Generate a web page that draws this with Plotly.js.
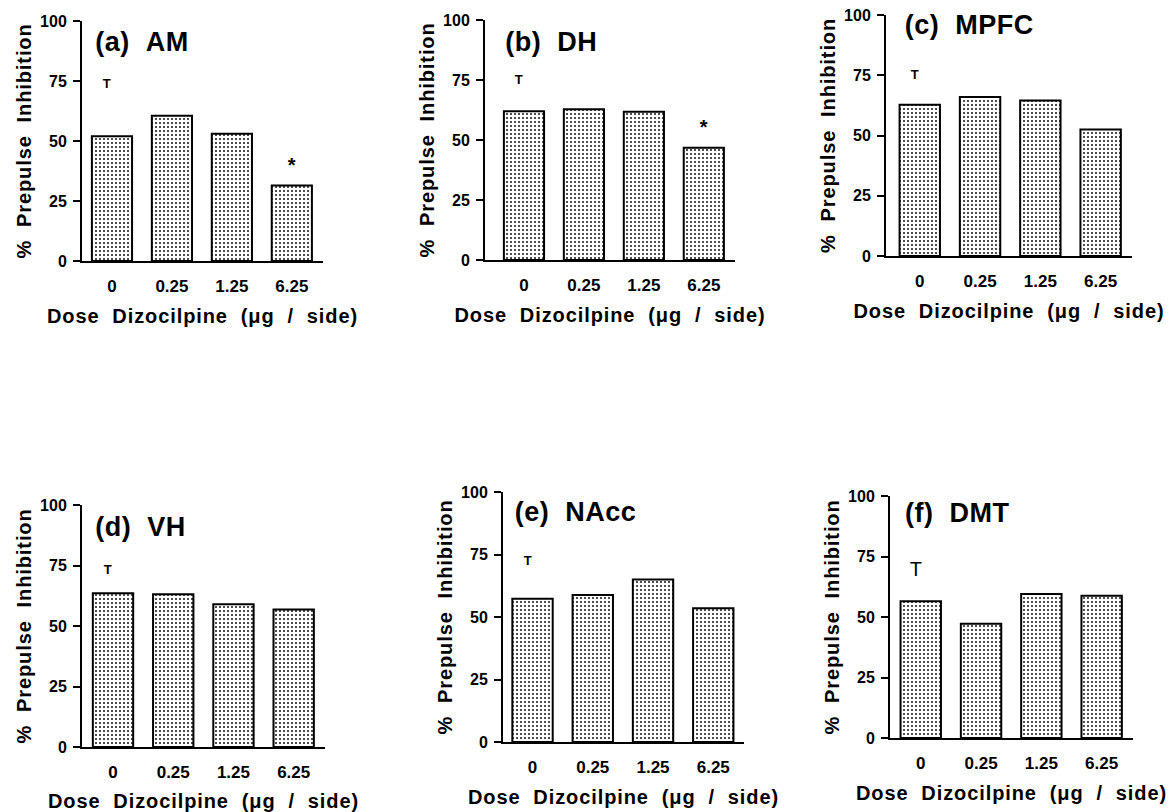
<!DOCTYPE html>
<html>
<head>
<meta charset="utf-8">
<script src="https://cdn.plot.ly/plotly-3.0.1.min.js"></script>
<style>
html,body{margin:0;padding:0;background:#fff;}
#chart{width:1172px;height:812px;}
#chart text[class$="title"]{letter-spacing:0.9px;}
#chart text.annotation-text{letter-spacing:0.5px;}
</style>
</head>
<body>
<div id="chart"></div>
<script>
// ---- data ----
const doses = ['0', '0.25', '1.25', '6.25'];
const panelNames = ['(a)\u00a0\u00a0AM', '(b)\u00a0\u00a0DH', '(c)\u00a0\u00a0MPFC', '(d)\u00a0\u00a0VH', '(e)\u00a0\u00a0NAcc', '(f)\u00a0\u00a0DMT'];
const amValues   = [52, 60.5, 53, 31.5];
const dhValues   = [62, 62.8, 61.8, 46.8];
const mpfcValues = [62.8, 66, 64.5, 52.5];
const vhValues   = [63.5, 63.1, 59, 56.8];
const naccValues = [57.3, 58.8, 65, 53.5];
const dmtValues  = [56.5, 47.2, 59.5, 58.8];
const tMarkY     = [74, 75, 75.5, 73.4, 72.7, 70];     // "T" mark above control bar
const starDose   = ['6.25', '6.25'];                  // significance stars (panels a, b)
const starY      = [41.6, 57];
const yTicks     = [0, 25, 50, 75, 100];
const xTitle = 'Dose\u00a0\u00a0Dizocilpine\u00a0\u00a0(\u03bcg\u00a0\u00a0/\u00a0\u00a0side)';
const yTitle = '%\u00a0\u00a0Prepulse\u00a0\u00a0Inhibition';

const seriesValues = [amValues, dhValues, mpfcValues, vhValues, naccValues, dmtValues];

// ---- layout helpers (pixel frame of the 1172x812 page) ----
const W = 1172, H = 812;
const fx = v => v / W;
const fy = v => 1 - v / H;
const frames = [
  {x: [82, 323],  y: [21, 261],  xr: [-0.5, 3.52],  t: [95, 42]},
  {x: [485, 735], y: [20, 260],  xr: [-0.65, 3.52], t: [505, 42]},
  {x: [886, 1132],y: [15, 256],  xr: [-0.56, 3.52], t: [905, 25]},
  {x: [82, 325],  y: [505, 747], xr: [-0.515, 3.52],t: [95, 527]},
  {x: [503, 744], y: [492, 742], xr: [-0.49, 3.51], t: [515, 512]},
  {x: [890, 1133],y: [496, 738], xr: [-0.51, 3.52], t: [905, 513]}
];

const FONT = 'Liberation Sans, Arial, Helvetica, sans-serif';
const data = [];
const layout = {
  width: W, height: H,
  margin: {l: 0, r: 0, t: 0, b: 0},
  paper_bgcolor: '#fff', plot_bgcolor: '#fff',
  showlegend: false,
  bargap: 0.33,
  font: {family: FONT, color: '#000'},
  annotations: []
};

frames.forEach((f, i) => {
  const n = i === 0 ? '' : String(i + 1);
  const xa = 'x' + n, ya = 'y' + n;
  data.push({
    type: 'bar', x: doses, y: seriesValues[i], xaxis: xa, yaxis: ya,
    marker: {
      color: '#fff',
      line: {color: '#000', width: 2},
      pattern: {shape: '.', fgcolor: '#000', bgcolor: '#fff', size: 4, solidity: 0.17}
    },
    hoverinfo: 'skip'
  });
  layout['xaxis' + n] = {
    domain: [fx(f.x[0]), fx(f.x[1])], anchor: ya, type: 'category',
    range: f.xr, showline: true, linecolor: '#000', linewidth: 2,
    showgrid: false, zeroline: false, ticks: '', ticklabelstandoff: 9,
    tickfont: {family: FONT, size: 17, weight: 'bold', color: '#000'},
    title: {text: xTitle, standoff: 14, font: {family: FONT, size: 20, weight: 'bold', color: '#000'}},
    fixedrange: true
  };
  layout['yaxis' + n] = {
    domain: [fy(f.y[1]), fy(f.y[0])], anchor: xa,
    range: [0, 100], tickvals: yTicks, ticktext: yTicks.map(String),
    ticks: 'outside', ticklen: 7, tickwidth: 2, tickcolor: '#000',
    showline: true, linecolor: '#000', linewidth: 2,
    showgrid: false, zeroline: false, ticklabelstandoff: 3,
    tickfont: {family: FONT, size: 16, weight: 'bold', color: '#000'},
    title: {text: yTitle, standoff: 3, font: {family: FONT, size: 20, weight: 'bold', color: '#000'}},
    fixedrange: true
  };
  layout.annotations.push({
    xref: 'paper', yref: 'paper', x: fx(f.t[0]), y: fy(f.t[1]),
    xanchor: 'left', yanchor: 'middle', showarrow: false,
    text: panelNames[i], font: {family: FONT, size: 27, weight: 'bold', color: '#000'}
  });
  layout.annotations.push({
    xref: xa, yref: ya, x: doses.indexOf('0'), y: tMarkY[i], xshift: -5,
    showarrow: false, text: 'T',
    font: {family: FONT, size: i === 5 ? 20 : 13, weight: i === 5 ? 'normal' : 'bold', color: '#000'}
  });
});
starY.forEach((v, i) => {
  const n = i === 0 ? '' : String(i + 1);
  layout.annotations.push({
    xref: 'x' + n, yref: 'y' + n, x: doses.indexOf(starDose[i]), y: v,
    showarrow: false, text: '*', yshift: -4,
    font: {family: FONT, size: 20, weight: 'bold', color: '#000'}
  });
});

Plotly.newPlot('chart', data, layout, {staticPlot: true, displayModeBar: false});
</script>
</body>
</html>
